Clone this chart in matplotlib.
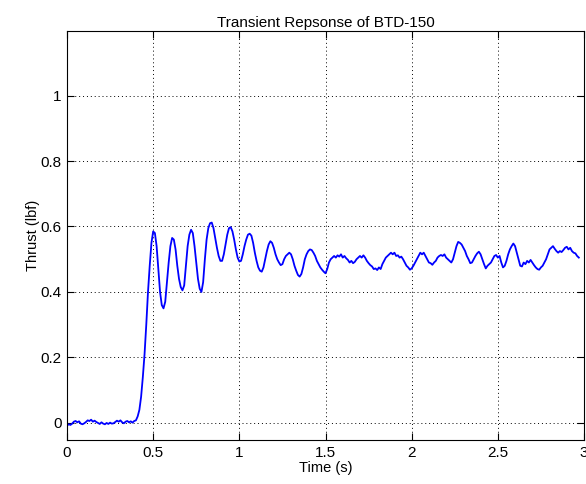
import numpy as np
import matplotlib
matplotlib.use("Agg")
import matplotlib.pyplot as plt

plt.rcParams['font.family'] = ['Liberation Sans', 'DejaVu Sans']

# Thrust samples (lbf), one every 0.01 s starting at t = 0
baseline = [-0.008, -0.004, -0.006, -0.002, 0.004, 0.006, 0.002, 0.005, -0.002, -0.004,
            -0.001, 0.003, 0.008, 0.006, 0.010, 0.004, 0.007, 0.003, 0.000, -0.003,
            0.002, -0.002, -0.004, 0.000, -0.003, 0.001, -0.002, -0.001, 0.003, 0.007,
            0.004, 0.008, 0.002, -0.001, 0.004, 0.006, 0.002, 0.005, 0.001, 0.006, 0.008]
rise_and_ring = [0.02, 0.04, 0.08, 0.14, 0.21, 0.30, 0.40, 0.48, 0.55, 0.585,
                 0.58, 0.54, 0.47, 0.40, 0.36, 0.35, 0.37, 0.43, 0.49, 0.54,
                 0.565, 0.56, 0.53, 0.48, 0.44, 0.415, 0.405, 0.42, 0.48, 0.54,
                 0.575, 0.59, 0.58, 0.54, 0.49, 0.44, 0.41, 0.40, 0.43, 0.50,
                 0.56, 0.595, 0.61, 0.612, 0.595, 0.565, 0.535, 0.51, 0.495, 0.495,
                 0.515, 0.545, 0.575, 0.595, 0.598, 0.585, 0.56, 0.53, 0.505, 0.493,
                 0.495, 0.515, 0.54, 0.56, 0.575, 0.578, 0.572, 0.55, 0.52, 0.495,
                 0.475, 0.465, 0.462, 0.475, 0.50, 0.525, 0.545, 0.555, 0.55, 0.535,
                 0.515, 0.50, 0.49, 0.482, 0.485, 0.50, 0.51, 0.515, 0.52, 0.515,
                 0.50, 0.48, 0.465, 0.452, 0.447, 0.455, 0.475, 0.50, 0.515, 0.525,
                 0.53, 0.528, 0.52, 0.51, 0.495, 0.485, 0.475, 0.468, 0.462, 0.457]
steady = [0.47, 0.49, 0.50, 0.505, 0.51, 0.505, 0.512, 0.508, 0.515, 0.505,
          0.51, 0.503, 0.498, 0.49, 0.495, 0.488, 0.492, 0.50, 0.505, 0.51,
          0.505, 0.512, 0.505, 0.495, 0.488, 0.482, 0.478, 0.47, 0.472, 0.467,
          0.475, 0.47, 0.485, 0.495, 0.505, 0.51, 0.515, 0.52, 0.515, 0.52,
          0.51, 0.512, 0.505, 0.508, 0.50, 0.49, 0.48, 0.475, 0.468, 0.472,
          0.48, 0.49, 0.50, 0.51, 0.52, 0.515, 0.52, 0.51, 0.50, 0.49,
          0.488, 0.483, 0.49, 0.495, 0.505, 0.51, 0.513, 0.51, 0.515, 0.505,
          0.50, 0.495, 0.49, 0.50, 0.52, 0.54, 0.553, 0.55, 0.545, 0.535,
          0.525, 0.51, 0.50, 0.488, 0.49, 0.50, 0.51, 0.518, 0.523, 0.515,
          0.50, 0.485, 0.472, 0.48, 0.485, 0.49, 0.50, 0.51, 0.513, 0.505,
          0.51, 0.49, 0.475, 0.48, 0.495, 0.515, 0.53, 0.54, 0.548, 0.54,
          0.52, 0.50, 0.48, 0.478, 0.49, 0.485, 0.495, 0.49, 0.498, 0.49,
          0.482, 0.475, 0.47, 0.468, 0.475, 0.48, 0.49, 0.50, 0.515, 0.53,
          0.535, 0.54, 0.532, 0.525, 0.52, 0.525, 0.522, 0.528, 0.535, 0.538,
          0.53, 0.535, 0.525, 0.52, 0.518, 0.51, 0.505]
thrust = np.array(baseline + rise_and_ring + steady)
sample_dt = 0.01
time = sample_dt * np.arange(len(thrust))

xticks = [0, 0.5, 1, 1.5, 2, 2.5, 3]
yticks = [0, 0.2, 0.4, 0.6, 0.8, 1]
xticklabels = ['0', '0.5', '1', '1.5', '2', '2.5', '3']
yticklabels = ['0', '0.2', '0.4', '0.6', '0.8', '1']

fig = plt.figure(figsize=(5.86, 4.84), dpi=100)
ax = fig.add_axes([67/586, 44/484, 517/586, 409/484])
ax.plot(time, thrust, color=(0, 0, 1), lw=1.3)
ax.set_xlim(0, 3)
ax.set_ylim(-0.052, 1.197)
ax.set_xticks(xticks)
ax.set_xticklabels(xticklabels)
ax.set_yticks(yticks)
ax.set_yticklabels(yticklabels)
ax.tick_params(direction='in', top=True, right=True, length=5, width=0.8,
               labelsize=11, pad=4)
ax.grid(True, color='black', linestyle=(0, (1, 3)), linewidth=0.7)
for s in ax.spines.values():
    s.set_linewidth(0.8)
ax.set_title('Transient Repsonse of BTD-150', fontsize=11, pad=3)
ax.set_xlabel('Time (s)', fontsize=10.5, labelpad=1)
ax.set_ylabel('Thrust (lbf)', fontsize=10.5, labelpad=0)
fig.savefig('out.png', dpi=100)
